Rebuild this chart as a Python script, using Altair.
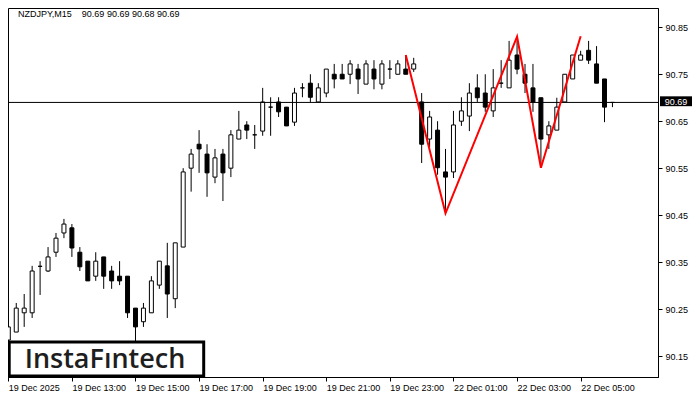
import altair as alt
import pandas as pd

# ---- data (NZDJPY M15) ----
opens = [90.184, 90.201, 90.242, 90.242, 90.341, 90.331, 90.371, 90.412, 90.423, 90.371,
         90.352, 90.320, 90.361, 90.331, 90.320, 90.320, 90.252, 90.223, 90.242, 90.301,
         90.342, 90.272, 90.382, 90.550, 90.601, 90.580, 90.531, 90.580, 90.550, 90.612,
         90.642, 90.621, 90.629, 90.680, 90.691, 90.680, 90.648, 90.721, 90.731, 90.691,
         90.710, 90.750, 90.750, 90.750, 90.761, 90.729, 90.761, 90.729, 90.761, 90.750,
         90.761, 90.761, 90.691, 90.612, 90.631, 90.542, 90.542, 90.650, 90.661, 90.721,
         90.710, 90.672, 90.731, 90.721, 90.791, 90.750, 90.721, 90.700, 90.621, 90.631,
         90.691, 90.740, 90.780, 90.801, 90.772, 90.740, 90.690]
highs = [90.242, 90.263, 90.282, 90.342, 90.352, 90.382, 90.412, 90.442, 90.431, 90.382,
         90.352, 90.371, 90.361, 90.342, 90.352, 90.320, 90.252, 90.263, 90.320, 90.352,
         90.391, 90.391, 90.550, 90.591, 90.631, 90.601, 90.591, 90.591, 90.631, 90.672,
         90.650, 90.642, 90.721, 90.701, 90.701, 90.680, 90.721, 90.731, 90.750, 90.731,
         90.761, 90.772, 90.772, 90.780, 90.772, 90.780, 90.780, 90.780, 90.780, 90.780,
         90.791, 90.785, 90.710, 90.672, 90.650, 90.591, 90.672, 90.701, 90.731, 90.750,
         90.750, 90.761, 90.780, 90.821, 90.821, 90.772, 90.772, 90.700, 90.650, 90.700,
         90.750, 90.791, 90.800, 90.821, 90.810, 90.740, 90.690]
lows = [90.170, 90.201, 90.212, 90.231, 90.280, 90.329, 90.361, 90.401, 90.361, 90.331,
        90.310, 90.310, 90.293, 90.293, 90.301, 90.231, 90.180, 90.212, 90.242, 90.293,
        90.231, 90.252, 90.382, 90.500, 90.540, 90.489, 90.518, 90.480, 90.531, 90.612,
        90.612, 90.591, 90.619, 90.619, 90.659, 90.640, 90.640, 90.701, 90.691, 90.691,
        90.701, 90.720, 90.740, 90.729, 90.708, 90.729, 90.718, 90.718, 90.740, 90.750,
        90.750, 90.755, 90.561, 90.595, 90.536, 90.454, 90.529, 90.640, 90.629, 90.691,
        90.670, 90.659, 90.721, 90.721, 90.750, 90.710, 90.670, 90.561, 90.591, 90.631,
        90.691, 90.740, 90.780, 90.772, 90.731, 90.648, 90.680]
closes = [90.212, 90.252, 90.252, 90.331, 90.341, 90.361, 90.401, 90.431, 90.380, 90.340,
          90.310, 90.352, 90.320, 90.310, 90.310, 90.242, 90.212, 90.252, 90.310, 90.352,
          90.282, 90.391, 90.542, 90.580, 90.591, 90.540, 90.572, 90.540, 90.621, 90.631,
          90.631, 90.621, 90.691, 90.680, 90.670, 90.640, 90.710, 90.721, 90.701, 90.721,
          90.761, 90.740, 90.740, 90.772, 90.740, 90.772, 90.740, 90.772, 90.761, 90.772,
          90.750, 90.772, 90.601, 90.659, 90.551, 90.531, 90.642, 90.672, 90.710, 90.700,
          90.680, 90.721, 90.731, 90.780, 90.761, 90.731, 90.691, 90.612, 90.640, 90.680,
          90.750, 90.791, 90.791, 90.780, 90.731, 90.680, 90.690]
bar_index = list(range(len(opens)))

tick_bars = [0, 8, 16, 24, 32, 40, 48, 56, 64, 72]
tick_labels = ["19 Dec 2025", "19 Dec 13:00", "19 Dec 15:00", "19 Dec 17:00", "19 Dec 19:00",
               "19 Dec 21:00", "19 Dec 23:00", "22 Dec 01:00", "22 Dec 03:00", "22 Dec 05:00"]
price_ticks = [90.15, 90.25, 90.35, 90.45, 90.55, 90.65, 90.75, 90.85]

pattern_bars = [50, 55, 64, 67, 72]
pattern_prices = [90.791, 90.454, 90.830, 90.551, 90.831]

current_price = 90.69
title_text = "NZDJPY,M15\u00a0\u00a0\u00a0 90.69 90.69 90.68 90.69"
logo_text = "InstaF\u0131ntech"

# ---- build chart ----
df = pd.DataFrame({"i": bar_index, "o": opens, "h": highs, "l": lows, "c": closes})
pat = pd.DataFrame({"i": pattern_bars, "p": pattern_prices})
cur = pd.DataFrame({"p": [current_price], "t": [f"{current_price:.2f}"]})

W, H = 650, 369
FONT = "Liberation Sans"
xscale = alt.Scale(domain=[-0.038, 81.73], nice=False, zero=False)
yscale = alt.Scale(domain=[90.1053, 90.8911], nice=False, zero=False)

label_expr = ("[" + ",".join(f"'{t}'" for t in tick_labels) + "][indexof(["
              + ",".join(str(b) for b in tick_bars) + "], datum.value)]")

xaxis = alt.Axis(values=tick_bars, labelExpr=label_expr, orient="bottom", tickSize=4,
                 labelAlign="left", labelPadding=2, labelFont=FONT, labelFontSize=9,
                 labelColor="black", tickColor="black", domainColor="black", grid=False,
                 title=None, labelOverlap=False, labelFlush=False)
yaxis = alt.Axis(values=price_ticks, format=".2f", orient="right", tickSize=4,
                 labelPadding=3, labelFont=FONT, labelFontSize=9, labelColor="black",
                 tickColor="black", domainColor="black", grid=False, title=None,
                 labelOverlap=False, labelFlush=False)

wicks = alt.Chart(df).mark_rule(color="black", strokeWidth=1, clip=True).encode(
    x=alt.X("i:Q", scale=xscale, axis=xaxis),
    y=alt.Y("l:Q", scale=yscale, axis=yaxis),
    y2="h:Q",
)

bodies = alt.Chart(df).transform_calculate(
    x1="datum.i - 0.25", x2="datum.i + 0.25",
    fillc="datum.c >= datum.o ? 'white' : 'black'",
).mark_rect(stroke="black", strokeWidth=1, clip=True).encode(
    x=alt.X("x1:Q", scale=xscale, axis=xaxis),
    x2="x2:Q",
    y=alt.Y("o:Q", scale=yscale, axis=yaxis),
    y2="c:Q",
    fill=alt.Fill("fillc:N", scale=None),
)

price_line = alt.Chart(cur).mark_rule(color="black", strokeWidth=1).encode(
    x=alt.value(0), x2=alt.value(W),
    y=alt.Y("p:Q", scale=yscale, axis=yaxis),
)

zigzag = alt.Chart(pat).mark_line(color="#ff0000", strokeWidth=2).encode(
    x=alt.X("i:Q", scale=xscale, axis=xaxis),
    y=alt.Y("p:Q", scale=yscale, axis=yaxis),
)

price_box = alt.Chart(cur).transform_calculate(
    y1="datum.p + 0.013", y2="datum.p - 0.008"
).mark_rect(color="black").encode(
    x=alt.value(W + 2), x2=alt.value(W + 34),
    y=alt.Y("y1:Q", scale=yscale, axis=yaxis), y2="y2:Q",
)
price_text = alt.Chart(cur).mark_text(color="white", font=FONT, fontSize=9,
                                      baseline="middle", align="center").encode(
    x=alt.value(W + 18), y=alt.Y("p:Q", scale=yscale, axis=yaxis), text="t:N",
)

title = alt.Chart(pd.DataFrame({"t": [title_text]})).mark_text(
    font=FONT, fontSize=9, color="black", align="left", baseline="alphabetic"
).encode(x=alt.value(10), y=alt.value(9), text="t:N")

logo_box = alt.Chart(pd.DataFrame({"t": [logo_text]})).mark_rect(
    fill="white", stroke="black", strokeWidth=3
).encode(x=alt.value(1.2), x2=alt.value(195.7), y=alt.value(334), y2=alt.value(368))

logo = alt.Chart(pd.DataFrame({"t": [logo_text]})).mark_text(
    font="Open Sans", fontSize=27, fontWeight=600, color="#1e1e1e", align="center",
    baseline="alphabetic"
).encode(x=alt.value(97), y=alt.value(360), text="t:N")

chart = alt.layer(
    wicks, bodies, price_line, zigzag, price_box, price_text, title, logo_box, logo
).properties(
    width=W, height=H,
    autosize=alt.AutoSizeParams(type="none"),
    padding={"left": 0, "top": 0, "right": 34, "bottom": 15},
    background="white",
).configure_view(stroke="black", strokeWidth=1)

chart.save("out.html", embed_options={"renderer": "svg", "actions": False})
